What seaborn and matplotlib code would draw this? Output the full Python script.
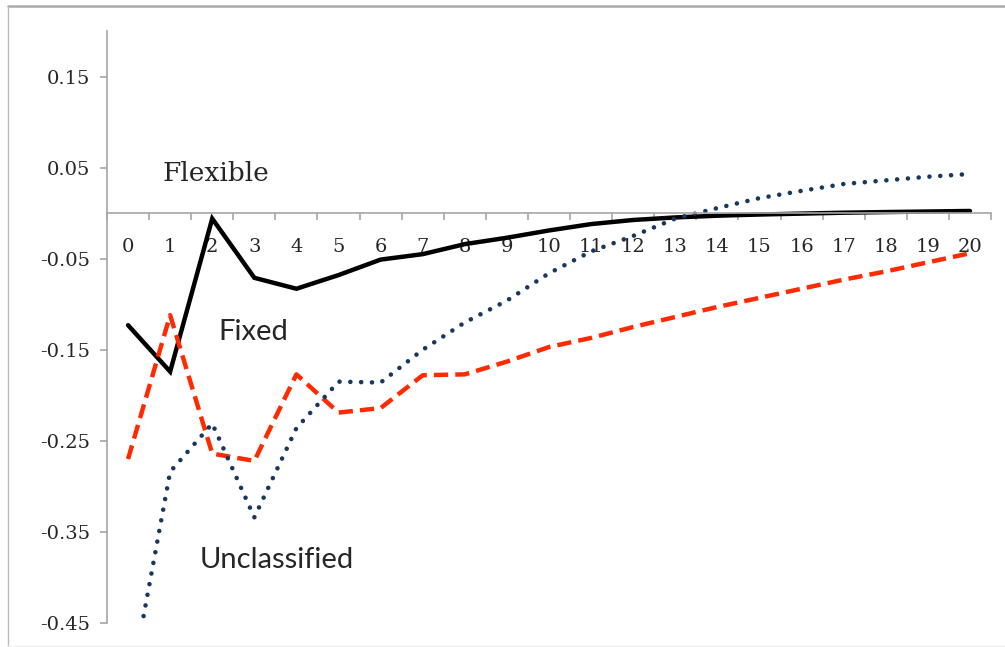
import numpy as np
import pandas as pd
import seaborn as sns
import matplotlib.pyplot as plt
from matplotlib.lines import Line2D

# Horizontes (0..20) y respuestas de cada régimen
horizons = list(range(21))
flexible = [-0.123, -0.174, -0.006, -0.071, -0.083, -0.068, -0.051, -0.045, -0.034, -0.027,
            -0.019, -0.012, -0.0075, -0.0047, -0.0028, -0.0015, -0.0005, 0.0005, 0.0012, 0.0018, 0.0024]
fixed = [-0.270, -0.112, -0.264, -0.272, -0.177, -0.219, -0.214, -0.178, -0.177, -0.163,
         -0.147, -0.137, -0.125, -0.114, -0.103, -0.093, -0.083, -0.073, -0.064, -0.054, -0.044]
unclassified = [-0.535, -0.284, -0.231, -0.334, -0.236, -0.185, -0.186, -0.150, -0.120, -0.096,
                -0.066, -0.042, -0.025, -0.006, 0.0056, 0.0165, 0.0245, 0.032, 0.036, 0.040, 0.043]

y_ticks = [0.15, 0.05, -0.05, -0.15, -0.25, -0.35, -0.45]
y_labels = ['0.15', '0.05', '-0.05', '-0.15', '-0.25', '-0.35', '-0.45']

df = pd.DataFrame({'h': horizons, 'flexible': flexible, 'fixed': fixed,
                   'unclassified': unclassified})

sns.set_style('white')
plt.rcParams['font.family'] = ['DejaVu Serif']

fig = plt.figure(figsize=(10.05, 6.47), dpi=100)
ax = fig.add_axes([107 / 1005, 1 - 623 / 647, (991 - 107) / 1005, (623 - 31) / 647])

sns.lineplot(data=df, x='h', y='flexible', ax=ax, color='black', linewidth=3.2,
             solid_joinstyle='miter')
sns.lineplot(data=df, x='h', y='fixed', ax=ax, color='#ff2a00', linewidth=3.2,
             linestyle=(0, (3.2, 1.6)))
sns.lineplot(data=df, x='h', y='unclassified', ax=ax, color='#17375e', linewidth=3.3,
             linestyle=(0, (0.01, 2.35)), dash_capstyle='round')

ax.set_xlim(-0.5, 20.5)
ax.set_ylim(-0.45, 0.2)
ax.set_xlabel('')
ax.set_ylabel('')

# Ejes estilo Excel
for s in ['top', 'right']:
    ax.spines[s].set_visible(False)
ax.spines['bottom'].set_position(('data', 0))
ax.spines['bottom'].set_color('#a6a6a6')
ax.spines['left'].set_color('#a6a6a6')
ax.spines['bottom'].set_linewidth(1.2)
ax.spines['left'].set_linewidth(1.2)

ax.set_xticks(horizons)
ax.set_xticklabels([str(h) for h in horizons])
ax.set_xticks(np.arange(-0.5, 21, 1), minor=True)
ax.tick_params(axis='x', which='major', length=0, pad=18, labelsize=14, bottom=True)
ax.tick_params(axis='x', which='minor', length=5, width=1.2, color='#a6a6a6',
               direction='out', bottom=True)

ax.set_yticks(y_ticks)
ax.set_yticklabels(y_labels)
ax.tick_params(axis='y', which='major', length=5, width=1.2, color='#a6a6a6',
               direction='out', pad=7, labelsize=14, left=True)

# Etiquetas de las series
ax.text(0.83, 0.043, 'Flexible', fontsize=19, va='center', ha='left', family='DejaVu Serif')
ax.text(2.14, -0.130, 'Fixed', fontsize=21, va='center', ha='left', family=['Lato', 'DejaVu Sans'])
ax.text(1.71, -0.381, 'Unclassified', fontsize=21, va='center', ha='left',
        family=['Lato', 'DejaVu Sans'])

# Marco gris alrededor de la figura
fig.add_artist(Line2D([8 / 1005, 1.0], [1 - 6 / 647, 1 - 6 / 647], color='#aaaaaa', lw=1.8,
                      transform=fig.transFigure))
fig.add_artist(Line2D([8 / 1005, 8 / 1005], [0, 1 - 6 / 647], color='#bbbbbb', lw=1.0,
                      transform=fig.transFigure))
fig.add_artist(Line2D([8 / 1005, 1.0], [1 / 647, 1 / 647], color='#eeeeee', lw=1.0,
                      transform=fig.transFigure))

fig.savefig('out.png', dpi=100)
